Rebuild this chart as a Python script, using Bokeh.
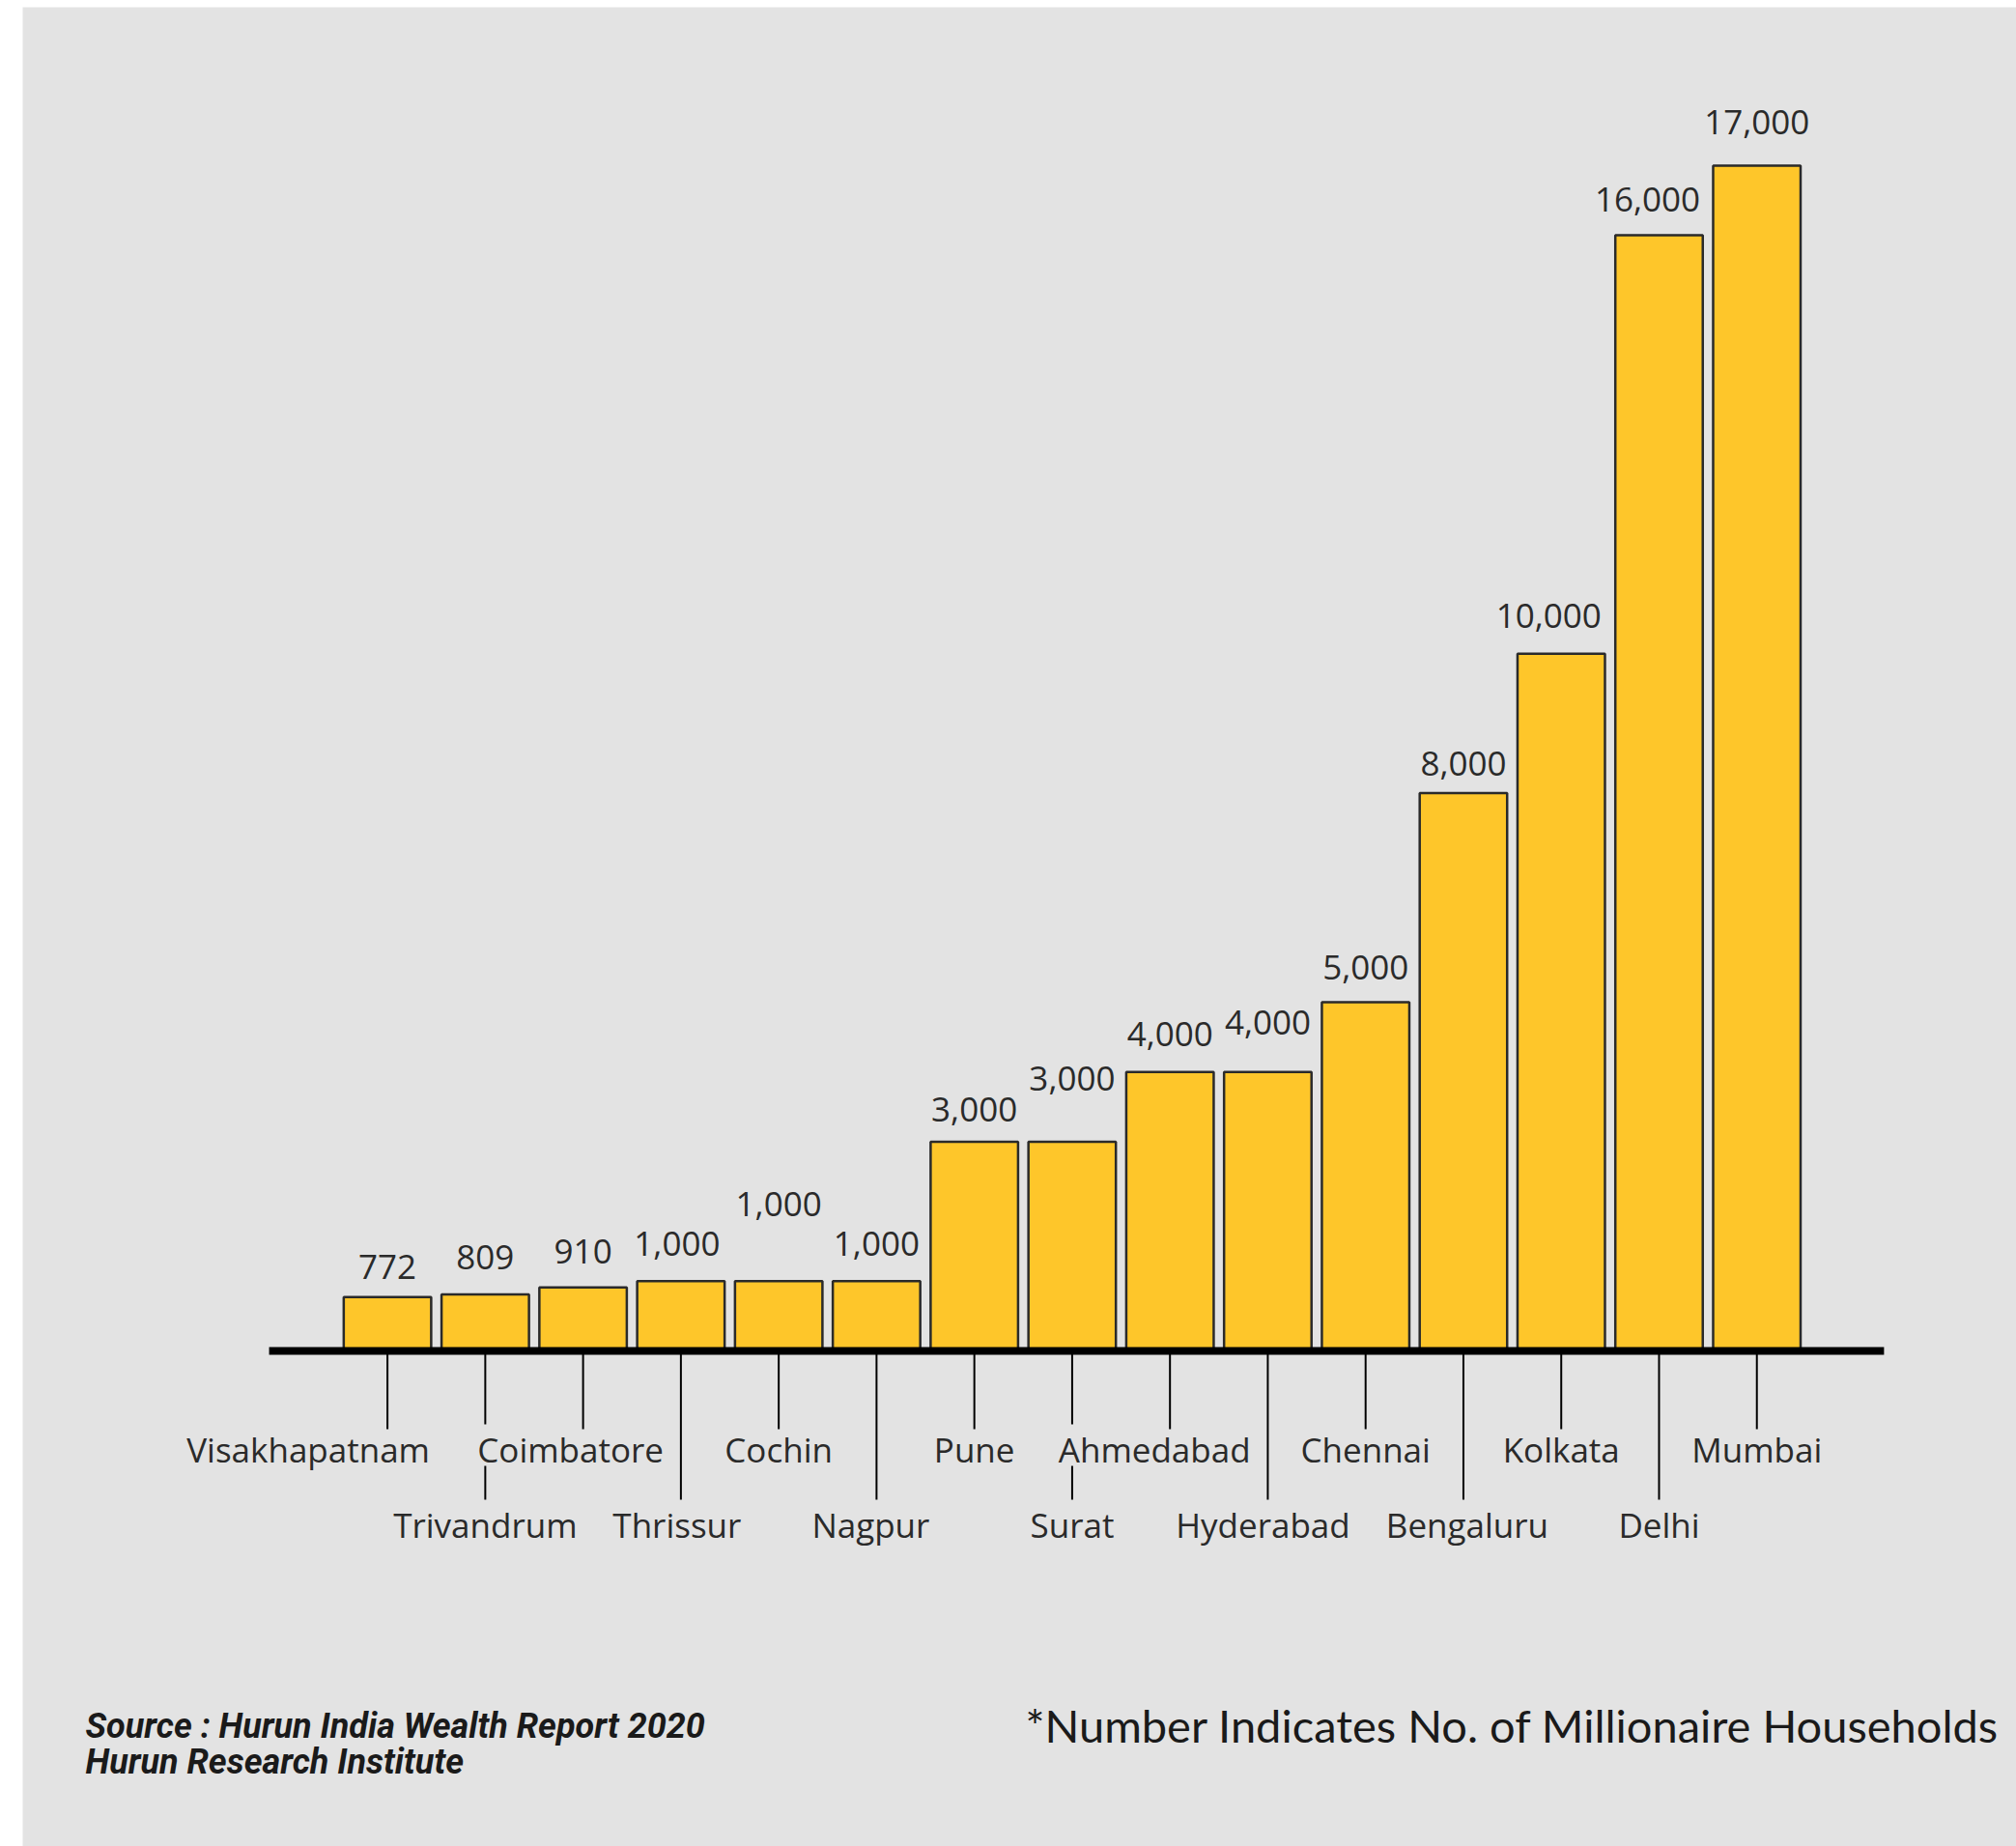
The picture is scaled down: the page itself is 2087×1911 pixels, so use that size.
from bokeh.plotting import figure
from bokeh.models import Range1d, ColumnDataSource
from bokeh.core.properties import value
from bokeh.embed import file_html
from bokeh.resources import INLINE

# Millionaire households by city (Hurun India Wealth Report 2020)
cities = ["Visakhapatnam", "Trivandrum", "Coimbatore", "Thrissur", "Cochin",
          "Nagpur", "Pune", "Surat", "Ahmedabad", "Hyderabad", "Chennai",
          "Bengaluru", "Kolkata", "Delhi", "Mumbai"]
households = [772, 809, 910, 1000, 1000, 1000, 3000, 3000, 4000, 4000,
              5000, 8000, 10000, 16000, 17000]

# ---- canvas geometry -------------------------------------------------------
W, H = 2087, 1911
PAD_L, PAD_T = 23, 7            # white strip on the left / top
PITCH = 101.26                  # px per category
FIRST_CENTER = 400.6            # px, centre of first bar
BASE_PX = 1398                  # px, baseline
PX_PER_UNIT = 0.07218           # px per household

x_start = -(FIRST_CENTER - PAD_L) / PITCH
x_end = x_start + (W - PAD_L) / PITCH
y_end = (BASE_PX - PAD_T) / PX_PER_UNIT
y_start = -(H - BASE_PX) / PX_PER_UNIT


def px_x(px):
    return x_start + (px - PAD_L) / PITCH


def px_y(py):
    return (BASE_PX - py) / PX_PER_UNIT


def dy(px):
    return px / PX_PER_UNIT


BG = "#e3e3e3"
BAR = "#fec62a"
INK = "#2a2a2a"
FONT = "Open Sans"

p = figure(width=W, height=H, output_backend="svg", toolbar_location=None,
           x_range=Range1d(x_start, x_end), y_range=Range1d(y_start, y_end),
           min_border_left=PAD_L, min_border_top=PAD_T,
           min_border_right=0, min_border_bottom=0,
           background_fill_color=BG, border_fill_color="white")
p.axis.visible = False
p.grid.visible = False
p.outline_line_color = None

idx = list(range(len(cities)))

# bars
src = ColumnDataSource(dict(x=idx, top=households))
p.vbar(x="x", top="top", bottom=0, width=0.894, source=src,
       fill_color=BAR, line_color=INK, line_width=2.5)

# value labels above bars (lift / nudge in screen px)
lift = {"Visakhapatnam": 31, "Trivandrum": 39, "Coimbatore": 37, "Thrissur": 39,
        "Cochin": 80, "Nagpur": 39, "Pune": 33, "Surat": 65, "Ahmedabad": 39,
        "Hyderabad": 51, "Chennai": 36, "Bengaluru": 31, "Kolkata": 39,
        "Delhi": 37, "Mumbai": 45}
nudge = {"Thrissur": -4, "Kolkata": -13, "Delhi": -12}
vsrc = ColumnDataSource(dict(
    x=idx, y=households,
    text=[f"{v:,}" for v in households],
    yo=[-lift[c] for c in cities],
    xo=[nudge.get(c, 0) for c in cities]))
p.text(x="x", y="y", text="text", x_offset="xo", y_offset="yo", source=vsrc,
       text_align="center", text_baseline="middle",
       text_font=value(FONT), text_font_size="35px", text_color=INK)

# baseline
p.line(x=[idx[0] - 1.21, idx[-1] + 1.30], y=[0, 0], line_color="black",
       line_width=8)

# leader ticks under the baseline, two staggered rows
row = [i % 2 for i in idx]
broken = {"Trivandrum", "Surat"}
tx0, ty0, tx1, ty1 = [], [], [], []
for i, c in zip(idx, cities):
    if row[i] == 0:
        segs = [(0, 81)]
    elif c in broken:
        segs = [(0, 76), (119, 154)]
    else:
        segs = [(0, 154)]
    for a, b in segs:
        tx0.append(i); tx1.append(i)
        ty0.append(-dy(a)); ty1.append(-dy(b))
p.segment(x0=tx0, y0=ty0, x1=tx1, y1=ty1, line_color="black", line_width=2)

# city names
shift = {"Visakhapatnam": -82, "Coimbatore": -13, "Ahmedabad": -16,
         "Thrissur": -4, "Nagpur": -6, "Hyderabad": -5, "Bengaluru": 4}
csrc = ColumnDataSource(dict(
    x=idx, y=[0] * len(idx), text=cities,
    xo=[shift.get(c, 0) for c in cities],
    yo=[102 if r == 0 else 180 for r in row]))
p.text(x="x", y="y", text="text", x_offset="xo", y_offset="yo", source=csrc,
       text_align="center", text_baseline="middle",
       text_font=value(FONT), text_font_size="35px", text_color=INK)

# footer
p.text(x=[px_x(88), px_x(88)], y=[px_y(1786), px_y(1823)],
       text=["Source : Hurun India Wealth Report 2020", "Hurun Research Institute"],
       text_align="left", text_baseline="middle",
       text_font=value("Roboto"), text_font_style="bold italic",
       text_font_size="36px", text_color="#1a1a1a")
p.text(x=[px_x(1061)], y=[px_y(1785)],
       text=["*Number Indicates No. of Millionaire Households"],
       text_align="left", text_baseline="middle",
       text_font=value("Lato"), text_font_size="47px", text_color="#1a1a1a")

open("out.html", "w").write(file_html(p, INLINE))
